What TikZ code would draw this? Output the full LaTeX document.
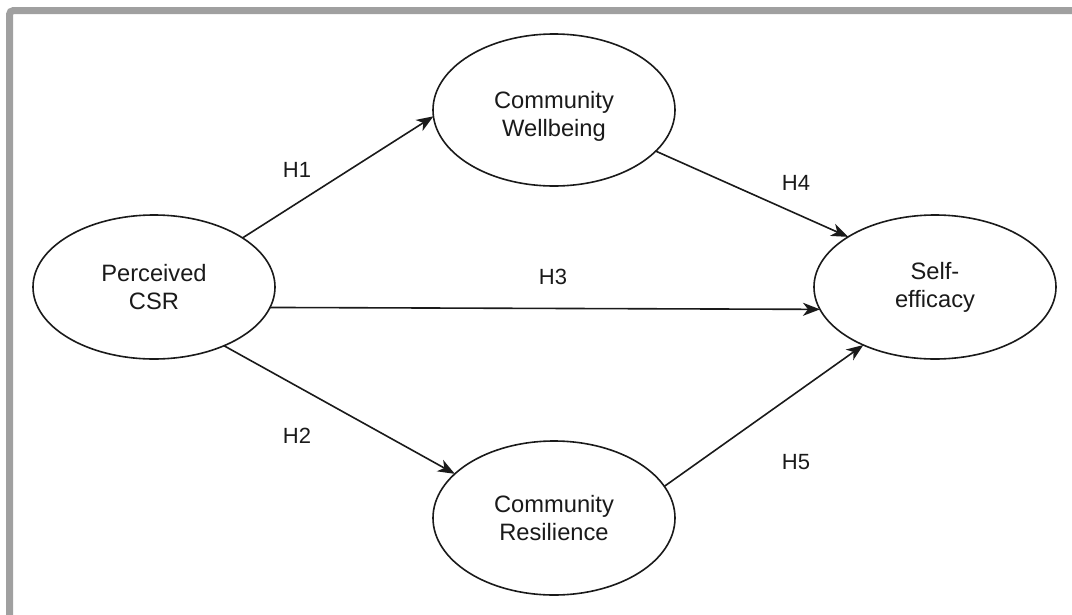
\documentclass[tikz,border=0pt]{standalone}
\usepackage{fontspec}
\setmainfont{Liberation Sans}
\usetikzlibrary{arrows.meta,shapes.geometric}

\definecolor{framegrey}{HTML}{A0A0A0}
\definecolor{inkdark}{HTML}{1A1A1A}

\tikzset{
  construct/.style={ellipse, draw=inkdark, line width=1.6pt, fill=white,
    inner sep=0pt, outer sep=0pt, align=center,
    font=\fontsize{23.7}{28}\selectfont, text=inkdark},
  path link/.style={draw=inkdark, line width=1.6pt,
    -{Stealth[length=17pt, width=13pt, inset=5pt]}},
  hyp/.style={font=\fontsize{22}{26}\selectfont, text=inkdark},
}

\begin{document}
\begin{tikzpicture}[x=1pt, y=-1pt]
  \useasboundingbox (0,0) rectangle (1072,614);
  \fill[white] (0,0) rectangle (1072,614);

  % frame strips along the left and top edges
  \draw[framegrey, line width=7pt, rounded corners=4pt]
    (9.5,620) -- (9.5,10.5) -- (1080,10.5);

  % latent constructs
  \node[construct, minimum width=242pt, minimum height=144pt] (csr) at (154,287) {Perceived\\CSR};
  \node[construct, minimum width=242pt, minimum height=152pt] (cwb) at (554,110)
    {\raisebox{-7pt}[\height][\depth]{\begin{tabular}{@{}c@{}}Community\\Wellbeing\end{tabular}}};
  \node[construct, minimum width=242pt, minimum height=154pt] (cre) at (554,518) {Community\\Resilience};
  \node[construct, minimum width=242pt, minimum height=144pt] (sef) at (935,287) {Self-\\efficacy};

  % hypothesised paths
  \draw[path link] (csr.29)  -- (cwb.183);
  \draw[path link] (csr.-40) -- (cre.156);
  \draw[path link] (csr.-10) -- (sef.191);
  \draw[path link] (cwb.-22) -- (sef.150);
  \draw[path link] (cre.16)  -- (sef.219);

  % path labels
  \node[hyp] (h1) at (297,170) {H1};
  \node[hyp] (h2) at (297,436) {H2};
  \node[hyp] (h3) at (553,277) {H3};
  \node[hyp] (h4) at (796,183) {H4};
  \node[hyp] (h5) at (796,462) {H5};
\end{tikzpicture}
\end{document}
